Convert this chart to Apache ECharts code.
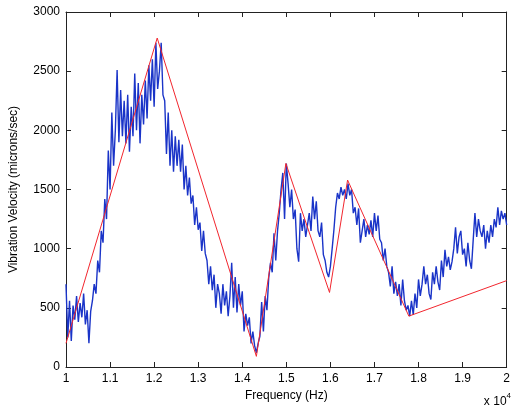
<!DOCTYPE html>
<html>
<head>
<meta charset="utf-8">
<script src="https://cdn.jsdelivr.net/npm/echarts@6/dist/echarts.min.js"></script>
<style>
  html, body { margin: 0; padding: 0; background: #fff; }
  #chart { width: 513px; height: 411px; }
</style>
</head>
<body>
<div id="chart"></div>
<script>
// frequency axis is in units of 10^4 Hz
const freqStart = 1.0;
const freqStep = 0.004;

// measured spectrum (blue), one value per freqStep starting at freqStart
const velocity = [
  700, 250, 560, 220,
  520, 400, 600, 380, 540, 420,
  620, 360, 480, 200, 470,
  560, 700, 620, 900, 800, 1150,
  1050, 1420, 1250, 1830,
  1500, 2150, 1700, 2000, 2510, 1900,
  2340, 1950, 2250, 1890, 2300, 1820, 2200, 1950,
  2480, 2000, 2400, 1890, 2300, 2050, 2420, 2100,
  2550, 2250, 2600, 2200, 2740, 2350, 2500, 2740, 2300,
  2250, 1800, 2150, 1700, 2000, 1650, 1950, 1700, 1920,
  1650, 1880, 1500, 1700, 1450, 1600, 1380, 1450,
  1200, 1350, 1160, 1220, 980, 1150, 960,
  900, 700, 850, 650, 780, 500, 700,
  620, 450, 700, 520, 640, 430, 600,
  880, 500, 760, 460, 700, 520,
  640, 300, 450, 350, 420, 200, 300,
  180, 120, 200, 260,
  550, 300, 600, 480, 750,
  880, 800, 1130, 900, 1150, 1300,
  1500, 1640, 1250, 1720, 1550, 1350,
  1500, 1250, 1330, 1000, 890,
  1300, 1150, 1250, 1100, 1200,
  1300, 1150, 1440, 1250, 1400, 1150,
  1100, 1220, 950, 900,
  800, 760, 850, 1000, 1160,
  1350, 1470, 1420, 1520, 1450, 1500, 1420,
  1550, 1450, 1500, 1300, 1350,
  1200, 1340, 1050, 1150, 1250, 1100,
  1200, 1120, 1240, 1100,
  1300, 1150, 1280, 1080,
  1050, 900, 1000, 850,
  800, 680, 850, 620, 720, 600,
  700, 520, 740, 560, 480,
  520, 430, 560, 440,
  620, 500, 740, 600, 700,
  850, 700, 780, 620, 570, 800,
  700, 850, 720, 650, 900,
  760, 990, 850, 930, 820, 890,
  1000, 1180, 960, 1100, 1150, 950,
  1000, 850, 1050, 900, 830,
  1070, 1300, 1100, 1250, 1150,
  1100, 1200, 1000, 1150, 1050, 1200, 1100,
  1250, 1180, 1350, 1200, 1320,
  1250, 1300, 1200
];

// piecewise linear fit (red)
const fitFreq = [1.0, 1.207, 1.432, 1.499, 1.598, 1.639, 1.778, 2.0];
const fitVel = [200, 2780, 90, 1720, 630, 1580, 430, 730];

const measured = velocity.map((v, i) => [freqStart + i * freqStep, v]);
const fit = fitFreq.map((f, i) => [f, fitVel[i]]);

const font = 'Liberation Sans, Arial, sans-serif';
const axisColor = '#222';

const xCommon = {
  type: 'value', min: 1, max: 2, interval: 0.1,
  axisLine: { show: true, onZero: false, lineStyle: { color: axisColor, width: 1 } },
  axisTick: { show: true, inside: true, length: 5, lineStyle: { color: axisColor } },
  splitLine: { show: false }
};
const yCommon = {
  type: 'value', min: 0, max: 3000, interval: 500,
  axisLine: { show: true, onZero: false, lineStyle: { color: axisColor, width: 1 } },
  axisTick: { show: true, inside: true, length: 5, lineStyle: { color: axisColor } },
  splitLine: { show: false }
};

const chart = echarts.init(document.getElementById('chart'));
chart.setOption({
  animation: false,
  backgroundColor: '#fff',
  grid: { left: 64, right: 5, top: 12, bottom: 44 },
  xAxis: [
    Object.assign({}, xCommon, {
      position: 'bottom',
      name: 'Frequency (Hz)', nameLocation: 'middle', nameGap: 22,
      nameTextStyle: { color: '#000', fontSize: 12, fontFamily: font },
      axisLabel: {
        color: '#000', fontSize: 12, fontFamily: font, margin: 6,
        formatter: v => String(Math.round(v * 10) / 10)
      }
    }),
    Object.assign({}, xCommon, { position: 'top', axisLabel: { show: false } })
  ],
  yAxis: [
    Object.assign({}, yCommon, {
      position: 'left',
      name: 'Vibration Velocity (microns/sec)', nameLocation: 'middle', nameGap: 46,
      nameTextStyle: { color: '#000', fontSize: 12, fontFamily: font },
      axisLabel: {
        color: '#000', fontSize: 12, fontFamily: font, margin: 6,
        formatter: v => String(v)
      }
    }),
    Object.assign({}, yCommon, { position: 'right', axisLabel: { show: false } })
  ],
  series: [
    {
      type: 'line', data: measured, showSymbol: false,
      lineStyle: { color: '#1a34c8', width: 1.4 }, z: 2
    },
    {
      type: 'line', data: fit, showSymbol: false,
      lineStyle: { color: '#f2262e', width: 1 }, z: 3
    }
  ],
  graphic: [{
    type: 'text', right: 2, top: 392,
    style: {
      text: '{a|x 10}{b|4}',
      rich: {
        a: { fontSize: 12, fontFamily: font, fill: '#000', padding: [4, 0, 0, 0] },
        b: { fontSize: 8, fontFamily: font, fill: '#000', verticalAlign: 'top' }
      }
    }
  }]
});
</script>
</body>
</html>
